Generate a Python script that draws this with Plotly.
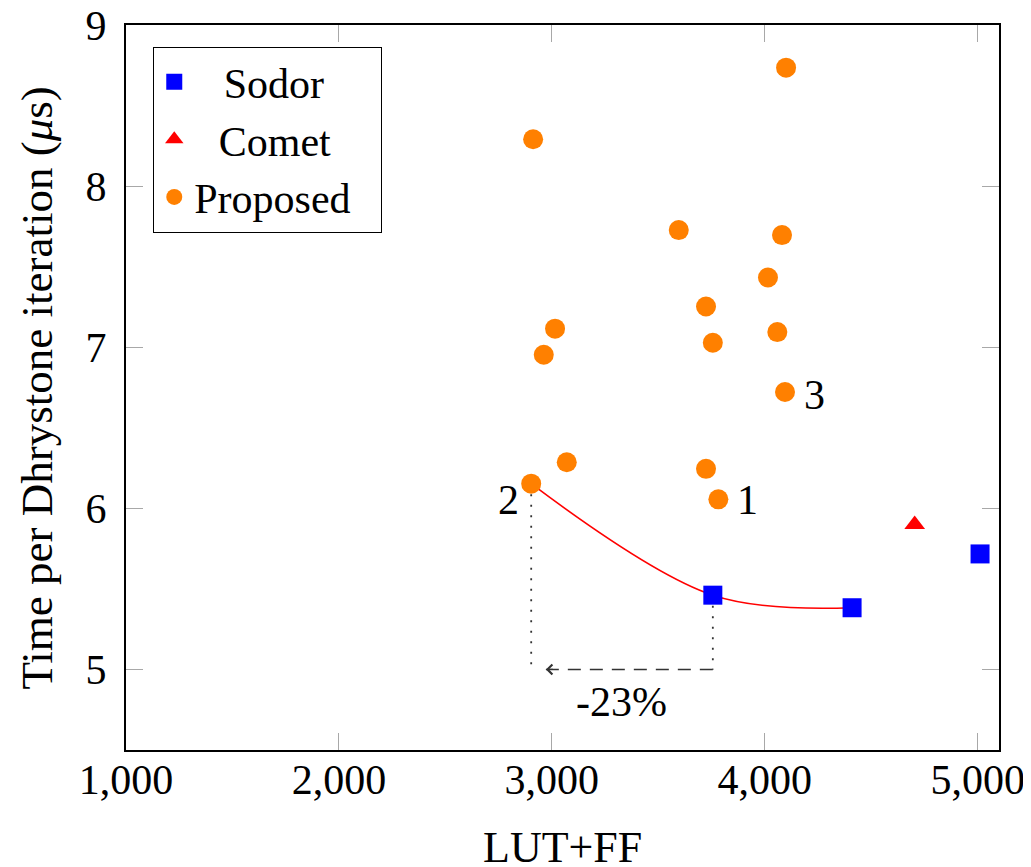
import plotly.graph_objects as go

# ---- data ----
sodor_x = [3756, 4410, 5011]
sodor_y = [5.461, 5.383, 5.717]

comet_x = [4704]
comet_y = [5.899]

proposed_x = [4100, 2912, 3596, 4081, 4015, 3724, 4059, 3015, 2962, 3756,
              4095, 3070, 3724, 2903, 3782]
proposed_y = [8.735, 8.291, 7.727, 7.696, 7.433, 7.253, 7.094, 7.115, 6.953, 7.028,
              6.722, 6.286, 6.245, 6.153, 6.056]

curve_x = [2903, 3756, 4410]
curve_y = [6.153, 5.461, 5.383]

drop_left_x = [2903, 2903]
drop_left_y = [6.153, 5.0]
drop_right_x = [3756, 3756]
drop_right_y = [5.461, 5.0]

gap_x = [3756, 2972]
gap_y = [5.0, 5.0]
gap_text = "-23%"
gap_text_x = 3325
gap_text_y = 4.795

label_text = ["1", "2", "3"]
label_x = [3917, 2795, 4232]
label_y = [6.054, 6.054, 6.705]

x_ticks = [1000, 2000, 3000, 4000, 5000]
x_tick_labels = ["1,000", "2,000", "3,000", "4,000", "5,000"]
y_ticks = [5, 6, 7, 8, 9]

x_title = "LUT+FF"
y_title = "Time per Dhrystone iteration (<i>μ</i>s)"

# legend names (padded so that the text sits centred like the original)
legend_names = ["\u00a0\u00a0\u2009Sodor", "\u00a0\u00a0\u200aComet", "Proposed\u00a0\u00a0\u200a"]

FONT = "Liberation Serif"
FS = 42

fig = go.Figure()

# red trend curve
fig.add_trace(go.Scatter(x=curve_x, y=curve_y, mode="lines",
                         line=dict(color="#ff0000", width=1.6, shape="spline", smoothing=1.0),
                         showlegend=False, hoverinfo="skip"))
# dotted drop lines
for dx, dy in [(drop_left_x, drop_left_y), (drop_right_x, drop_right_y)]:
    fig.add_trace(go.Scatter(x=dx, y=dy, mode="lines",
                             line=dict(color="#333333", width=1.8, dash="2px,8.5px"),
                             showlegend=False, hoverinfo="skip"))
# dashed gap line
fig.add_trace(go.Scatter(x=gap_x, y=gap_y, mode="lines",
                         line=dict(color="#333333", width=1.4, dash="13px,9px"),
                         showlegend=False, hoverinfo="skip"))

fig.add_trace(go.Scatter(x=sodor_x, y=sodor_y, mode="markers", name=legend_names[0],
                         marker=dict(symbol="square", size=19, color="#0000ff",
                                     line=dict(width=0))))
fig.add_trace(go.Scatter(x=comet_x, y=comet_y, mode="markers", name=legend_names[1],
                         marker=dict(symbol="triangle-up", size=18, color="#ff0000",
                                     line=dict(width=0))))
fig.add_trace(go.Scatter(x=proposed_x, y=proposed_y, mode="markers", name=legend_names[2],
                         marker=dict(symbol="circle", size=20, color="#ff8000",
                                     line=dict(width=0))))

# arrow head at left end of dashed line
fig.add_annotation(x=gap_x[1], y=gap_y[1], ax=gap_x[1] + 40, ay=gap_y[1],
                   xref="x", yref="y", axref="x", ayref="y", text="",
                   showarrow=True, arrowhead=4, arrowsize=1.6, arrowwidth=1.2,
                   arrowcolor="#333333")
fig.add_annotation(x=gap_text_x, y=gap_text_y, text=gap_text, showarrow=False,
                   font=dict(family=FONT, size=FS, color="black"))
for t, lx, ly in zip(label_text, label_x, label_y):
    fig.add_annotation(x=lx, y=ly, text=t, showarrow=False,
                       font=dict(family=FONT, size=FS, color="black"))

# axis titles
fig.add_annotation(x=0.5, y=-0.134, xref="paper", yref="paper", text=x_title,
                   showarrow=False, xanchor="center", yanchor="middle",
                   font=dict(family=FONT, size=44, color="black"))
fig.add_annotation(x=-0.103, y=0.4986, xref="paper", yref="paper", text=y_title,
                   showarrow=False, xanchor="center", yanchor="middle", textangle=-90,
                   font=dict(family=FONT, size=45, color="black"))

axis_common = dict(showgrid=False, zeroline=False, showline=True, linecolor="black",
                   linewidth=2, mirror="ticks", ticks="inside", ticklen=17,
                   tickcolor="#a8a8a8", tickwidth=1.2, automargin=False,
                   ticklabeloverflow="allow",
                   tickfont=dict(family=FONT, size=FS, color="black"))

fig.update_xaxes(range=[1000, 5100], tickvals=x_ticks, ticktext=x_tick_labels,
                 ticklabelstandoff=-8, **axis_common)
fig.update_yaxes(range=[4.5, 9], tickvals=y_ticks,
                 ticklabelstandoff=9, **axis_common)

# the page shows the figure with an 8 px body margin, so the canvas is 8 px smaller
fig.update_layout(
    width=1023, height=859,
    margin=dict(l=118, r=32, t=17, b=117, autoexpand=False),
    plot_bgcolor="white", paper_bgcolor="white",
    font=dict(family=FONT, size=FS, color="black"),
    legend=dict(x=0.031, y=0.97, xanchor="left", yanchor="top",
                bordercolor="black", borderwidth=1.2, bgcolor="white",
                font=dict(family=FONT, size=42, color="black"),
                itemwidth=30, tracegroupgap=0),
)

fig.write_html("out.html")
